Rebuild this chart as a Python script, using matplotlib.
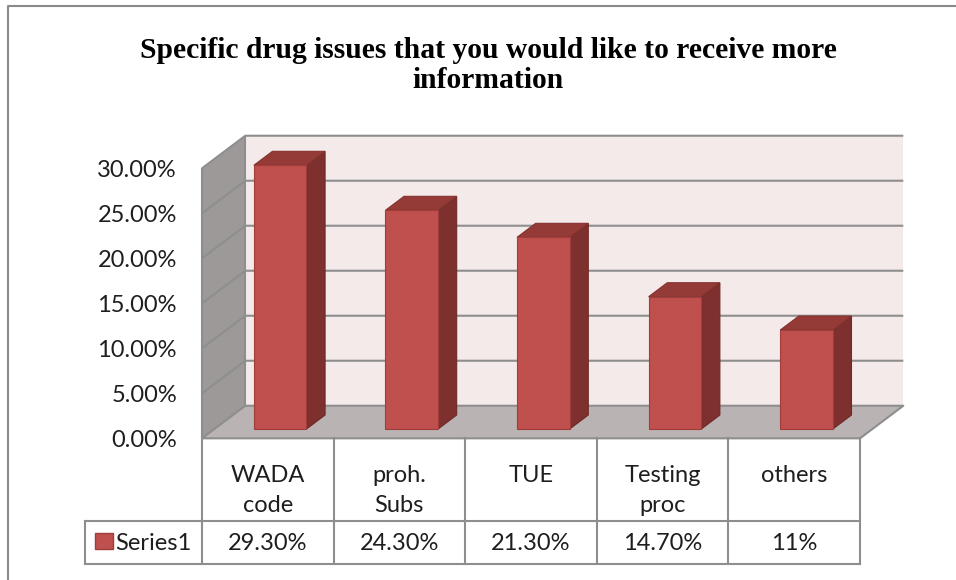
import matplotlib.pyplot as plt
import matplotlib.transforms as mtransforms
from matplotlib.patches import Polygon, Rectangle
import numpy as np

# chart data
categories = ["WADA\ncode", "proh.\nSubs", "TUE", "Testing\nproc", "others"]
values = [29.3, 24.3, 21.3, 14.7, 11.0]
value_labels = ["29.30%", "24.30%", "21.30%", "14.70%", "11%"]
yticks = [0, 5, 10, 15, 20, 25, 30]
series_name = "Series1"
title_lines = ["Specific drug issues that you would like to receive more",
               "information"]

W, H = 956, 580
fig = plt.figure(figsize=(W / 100, H / 100), dpi=100)
ax = fig.add_axes([0, 0, 1, 1])
ax.set_xlim(-2.035, 5.2295)
ax.set_ylim(-15.74, 48.70)
ax.axis('off')

# pixel transform for free text / frame
pix = mtransforms.Affine2D().scale(1 / W, -1 / H).translate(0, 1) + fig.transFigure

GRID = '#8E8E8E'
TXT = '#1e1e1e'
FONT = 'Lato'
FS = 17

# oblique depth offset (data units per unit depth)
DX, DY = 0.329, 3.62


def proj(x, y, z):
    return (x + z * DX, y + z * DY)


def face(pts, fc, ec='none', lw=1.0, zo=1):
    ax.add_patch(Polygon([proj(*p) for p in pts], closed=True,
                         fc=fc, ec=ec, lw=lw, zorder=zo))


def line3(pts, color=GRID, lw=1.5, zo=2):
    xy = np.array([proj(*p) for p in pts])
    ax.plot(xy[:, 0], xy[:, 1], color=color, lw=lw, zorder=zo,
            solid_capstyle='butt')


x0, x1 = -0.5, len(categories) - 0.5
ytop = yticks[-1]

# walls and floor
face([(x0, 0, 1), (x1, 0, 1), (x1, ytop, 1), (x0, ytop, 1)], '#F5EAEA')
face([(x0, 0, 0), (x0, 0, 1), (x0, ytop, 1), (x0, ytop, 0)], '#9E9999')
face([(x0, 0, 0), (x1, 0, 0), (x1, 0, 1), (x0, 0, 1)], '#BAB3B3')

for v in yticks[1:]:
    line3([(x0, v, 0), (x0, v, 1), (x1, v, 1)])
line3([(x0, 0, 0), (x0, ytop, 0)])
line3([(x0, 0, 1), (x0, ytop, 1)])
line3([(x0, 0, 0), (x0, 0, 1), (x1, 0, 1), (x1, 0, 0), (x0, 0, 0)], zo=3)

# bars
za, zb, hw = 0.285, 0.715, 0.2
for i, v in enumerate(values):
    xa, xb = i - hw, i + hw
    face([(xb, 0, za), (xb, 0, zb), (xb, v, zb), (xb, v, za)],
         '#7E302E', '#6E2927', 0.8, 4)
    face([(xa, v, za), (xb, v, za), (xb, v, zb), (xa, v, zb)],
         '#943A37', '#84322F', 0.8, 4)
    face([(xa, 0, za), (xb, 0, za), (xb, v, za), (xa, v, za)],
         '#C0504D', '#9E3D3A', 0.8, 5)

# value axis labels
for v in yticks:
    ax.text(x0 - 0.19, v - 0.22, f"{v:.2f}%", ha='right', va='center',
            fontsize=FS, family=FONT, color=TXT)

# data table
r1, r2 = -9.13, -13.91
xl = -1.389
for k in range(len(categories) + 1):
    ax.plot([x0 + k, x0 + k], [0, r2], color=GRID, lw=1.5, zorder=3)
ax.plot([xl, x1], [r1, r1], color=GRID, lw=1.5, zorder=3)
ax.plot([xl, x1], [r2, r2], color=GRID, lw=1.5, zorder=3)
ax.plot([xl, xl], [r1, r2], color=GRID, lw=1.5, zorder=3)

for i, (cat, lab) in enumerate(zip(categories, value_labels)):
    for j, part in enumerate(cat.split("\n")):
        ax.text(i, -4.08 - 3.33 * j, part, ha='center', va='center',
                fontsize=FS, family=FONT, color=TXT)
    ax.text(i, -11.63, lab, ha='center', va='center',
            fontsize=FS, family=FONT, color=TXT)

ax.add_patch(Rectangle((-1.31, -12.3), 0.137, 1.78, fc='#C0504D',
                       ec='#9E3D3A', lw=1.0, zorder=4))
ax.text(-1.161, -11.63, series_name, ha='left', va='center',
        fontsize=FS, family=FONT, color=TXT)

# title
for k, t in enumerate(title_lines):
    ax.text(488, 58 + 30 * k, t, transform=pix, ha='center', va='baseline',
            fontsize=21.3, family='Liberation Serif', weight='bold',
            color='black')

# chart frame (cropped on the right and bottom)
ax.plot([8, 8, W], [H, 6, 6], transform=pix, color='#8A8A8A', lw=1.5)

fig.savefig('out.png', dpi=100)
